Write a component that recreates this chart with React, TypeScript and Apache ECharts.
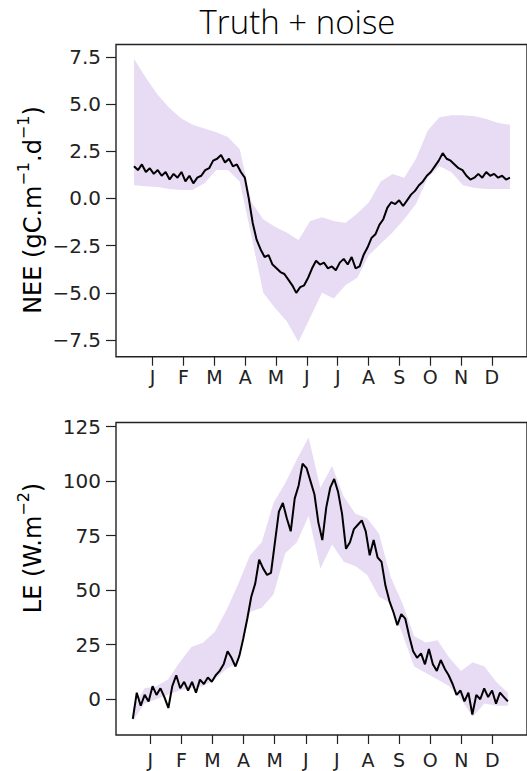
import React, { useEffect, useRef } from "react";
import * as echarts from "echarts";

const MONTHS = ["J", "F", "M", "A", "M", "J", "J", "A", "S", "O", "N", "D"];
const MONTH_TICKS = [0, 1, 2, 3, 4, 5, 6, 7, 8, 9, 10, 11];
const NEE_TICKS = [-7.5, -5, -2.5, 0, 2.5, 5, 7.5];
const LE_TICKS = [0, 25, 50, 75, 100, 125];

// x extent of the records, in month units (tick J = 0)
const NEE_X0 = -0.606;
const NEE_X1 = 11.588;
const LE_X0 = -0.564;
const LE_X1 = 11.5;

const NEE_LINE = [
  1.7, 1.5, 1.8, 1.4, 1.6, 1.3, 1.5, 1.2, 1.4, 1.0, 1.3, 1.1, 1.4, 0.9, 1.2, 0.8,
  1.1, 1.2, 1.5, 1.6, 2.0, 2.1, 2.3, 1.9, 2.1, 1.7, 1.8, 1.4, 1.1, 0.0, -1.3, -2.2,
  -2.7, -3.1, -3.0, -3.5, -3.7, -3.9, -4.0, -4.3, -4.6, -5.0, -4.7, -4.6, -4.2, -3.7, -3.3, -3.5,
  -3.4, -3.7, -3.6, -3.8, -3.4, -3.2, -3.5, -3.1, -3.7, -3.6, -3.0, -2.6, -2.1, -1.9, -1.4, -1.1,
  -0.5, -0.2, -0.3, -0.1, -0.4, -0.1, 0.2, 0.4, 0.7, 0.9, 1.2, 1.4, 1.7, 2.0, 2.4, 2.1,
  2.0, 1.8, 1.6, 1.5, 1.2, 1.0, 1.1, 1.3, 1.1, 1.4, 1.2, 1.3, 1.1, 1.2, 1.0, 1.1,
];
const NEE_UPPER = [
  7.4, 6.4, 5.5, 4.8, 4.25, 3.9, 3.7, 3.5, 3.25, 2.6, -0.2, -1.1, -1.5, -1.8, -2.2, -1.2,
  -1.0, -1.2, -1.3, -0.8, -0.2, 0.9, 1.3, 1.1, 2.1, 3.6, 4.3, 4.4, 4.4, 4.35, 4.2, 4.0, 3.9,
];
const NEE_LOWER = [
  0.7, 0.65, 0.6, 0.5, 0.45, 0.45, 0.8, 1.5, 1.5, 0.9, -2.0, -5.0, -5.8, -6.5, -7.6, -6.3,
  -5.0, -5.3, -4.6, -4.2, -3.0, -2.4, -1.8, -1.1, -0.3, 1.1, 1.7, 1.4, 0.7, 0.55, 0.5, 0.5, 0.5,
];

const LE_LINE = [
  -9, 3, -3, 2, -1, 6, 2, 5, 1, -4, 6, 11, 5, 8, 4, 8,
  3, 9, 7, 10, 8, 11, 13, 16, 22, 19, 15, 20, 28, 37, 47, 53,
  64, 60, 57, 58, 72, 86, 90, 83, 77, 92, 98, 108, 106, 100, 94, 81,
  73, 88, 97, 101, 95, 85, 69, 72, 78, 80, 82, 77, 66, 73, 65, 63,
  52, 45, 40, 34, 39, 37, 29, 22, 19, 21, 16, 23, 16, 13, 18, 14,
  11, 7, 2, 4, -1, 3, -7, 2, 0, 5, 1, 4, -2, 3, 1, -1,
];
const LE_UPPER = [
  -4, 5, 6, 9, 17, 24, 26, 31, 41, 53, 66, 72, 90, 99, 110, 120,
  97, 107, 93, 85, 83, 76, 56, 44, 29, 26, 27, 19, 13, 17, 15, 8, 3,
];
const LE_LOWER = [
  -10, -2, 0, 2, 4, 5, 6, 9, 14, 17, 40, 42, 48, 67, 72, 84,
  60, 71, 63, 61, 57, 47, 44, 30, 15, 12, 9, 6, 0, -8, -2, -3, -3,
];

const BAND_COLOR = "#e8dcf5";
const AXIS_COLOR = "#222";
const TICK_FONT = "DejaVu Sans";

function xs(n: number, a: number, b: number) {
  return Array.from({ length: n }, (_, i) => a + (i * (b - a)) / (n - 1));
}

function bandSeries(xIndex: number, x0: number, x1: number, lo: number[], hi: number[]) {
  const bx = xs(hi.length, x0, x1);
  return {
    type: "custom",
    xAxisIndex: xIndex,
    yAxisIndex: xIndex,
    silent: true,
    z: 1,
    data: bx.map((x, i) => [x, lo[i], hi[i]]),
    encode: { x: 0, y: [1, 2] },
    renderItem: (params: any, api: any) => {
      if (params.dataIndex !== 0) return null;
      const pts: number[][] = [];
      for (let i = 0; i < bx.length; i++) pts.push(api.coord([bx[i], hi[i]]));
      for (let i = bx.length - 1; i >= 0; i--) pts.push(api.coord([bx[i], lo[i]]));
      return { type: "polygon", shape: { points: pts }, style: { fill: BAND_COLOR } };
    },
  };
}

function lineSeries(xIndex: number, x0: number, x1: number, vals: number[]) {
  const lx = xs(vals.length, x0, x1);
  return {
    type: "line",
    xAxisIndex: xIndex,
    yAxisIndex: xIndex,
    showSymbol: false,
    symbol: "none",
    z: 3,
    lineStyle: { color: "#000", width: 2 },
    data: lx.map((x, i) => [x, vals[i]]),
  };
}

const fmtNum = (v: number, dec: number) => (v < 0 ? "\u2212" : "") + Math.abs(v).toFixed(dec);

function xAxis(gridIndex: number, min: number, max: number, margin: number) {
  return {
    type: "value",
    gridIndex,
    min,
    max,
    position: "bottom",
    axisLine: { show: false, onZero: false },
    splitLine: { show: false },
    axisTick: {
      show: true,
      inside: false,
      customValues: MONTH_TICKS,
      length: 9,
      lineStyle: { color: AXIS_COLOR, width: 1.2 },
    },
    axisLabel: {
      customValues: MONTH_TICKS,
      formatter: (v: number) => MONTHS[Math.round(v)] ?? "",
      margin,
      fontFamily: TICK_FONT,
      fontSize: 19,
      color: "#222",
    },
  };
}

function yAxis(gridIndex: number, min: number, max: number, ticks: number[], dec: number) {
  return {
    type: "value",
    gridIndex,
    min,
    max,
    position: "left",
    axisLine: { show: false, onZero: false },
    splitLine: { show: false },
    axisTick: {
      show: true,
      inside: false,
      customValues: ticks,
      length: 10,
      lineStyle: { color: AXIS_COLOR, width: 1.2 },
    },
    axisLabel: {
      customValues: ticks,
      formatter: (v: number) => fmtNum(v, dec),
      margin: 15,
      fontFamily: TICK_FONT,
      fontSize: 20,
      color: "#222",
    },
  };
}

export default function App() {
  const ref = useRef<HTMLDivElement>(null);

  useEffect(() => {
    if (!ref.current) return;
    const chart = echarts.init(ref.current, undefined, { renderer: "svg" });
    const richLabel = {
      n: { fontFamily: TICK_FONT, fontSize: 24, color: "#111", lineHeight: 30, verticalAlign: "bottom" },
      s: { fontFamily: TICK_FONT, fontSize: 16, color: "#111", lineHeight: 30, verticalAlign: "top" },
    };
    chart.setOption({
      animation: false,
      backgroundColor: "#fff",
      grid: [
        { left: 116, top: 44.5, width: 418, height: 312.2, show: true, borderColor: AXIS_COLOR, borderWidth: 1.4, backgroundColor: "transparent" },
        { left: 116, top: 422.5, width: 415, height: 312.5, show: true, borderColor: AXIS_COLOR, borderWidth: 1.4, backgroundColor: "transparent" },
      ],
      xAxis: [xAxis(0, -1.189, 12.14, 11), xAxis(1, -1.105, 12.115, 15)],
      yAxis: [yAxis(0, -8.38, 8.15, NEE_TICKS, 1), yAxis(1, -16.4, 126.9, LE_TICKS, 0)],
      series: [
        bandSeries(0, NEE_X0, NEE_X1, NEE_LOWER, NEE_UPPER),
        lineSeries(0, NEE_X0, NEE_X1, NEE_LINE),
        bandSeries(1, LE_X0, LE_X1, LE_LOWER, LE_UPPER),
        lineSeries(1, LE_X0, LE_X1, LE_LINE),
      ],
      graphic: [
        {
          type: "text",
          x: 297.5,
          y: 21,
          style: {
            text: "Truth + noise",
            fontFamily: "Open Sans",
            fontSize: 33,
            fontWeight: 300,
            fill: "#000",
            align: "center",
            verticalAlign: "middle",
          },
        },
        {
          type: "text",
          x: 30,
          y: 210,
          rotation: Math.PI / 2,
          style: {
            text: "{n|NEE (gC.m}{s|\u22121}{n|.d}{s|\u22121}{n|)}",
            rich: richLabel,
            align: "center",
            verticalAlign: "middle",
          },
        },
        {
          type: "text",
          x: 30,
          y: 548,
          rotation: Math.PI / 2,
          style: {
            text: "{n|LE (W.m}{s|\u22122}{n|)}",
            rich: richLabel,
            align: "center",
            verticalAlign: "middle",
          },
        },
      ],
    });
    return () => chart.dispose();
  }, []);

  return (
    <div
      ref={ref}
      style={{ position: "absolute", left: 0, top: 0, width: 527, height: 771, background: "#fff" }}
    />
  );
}
